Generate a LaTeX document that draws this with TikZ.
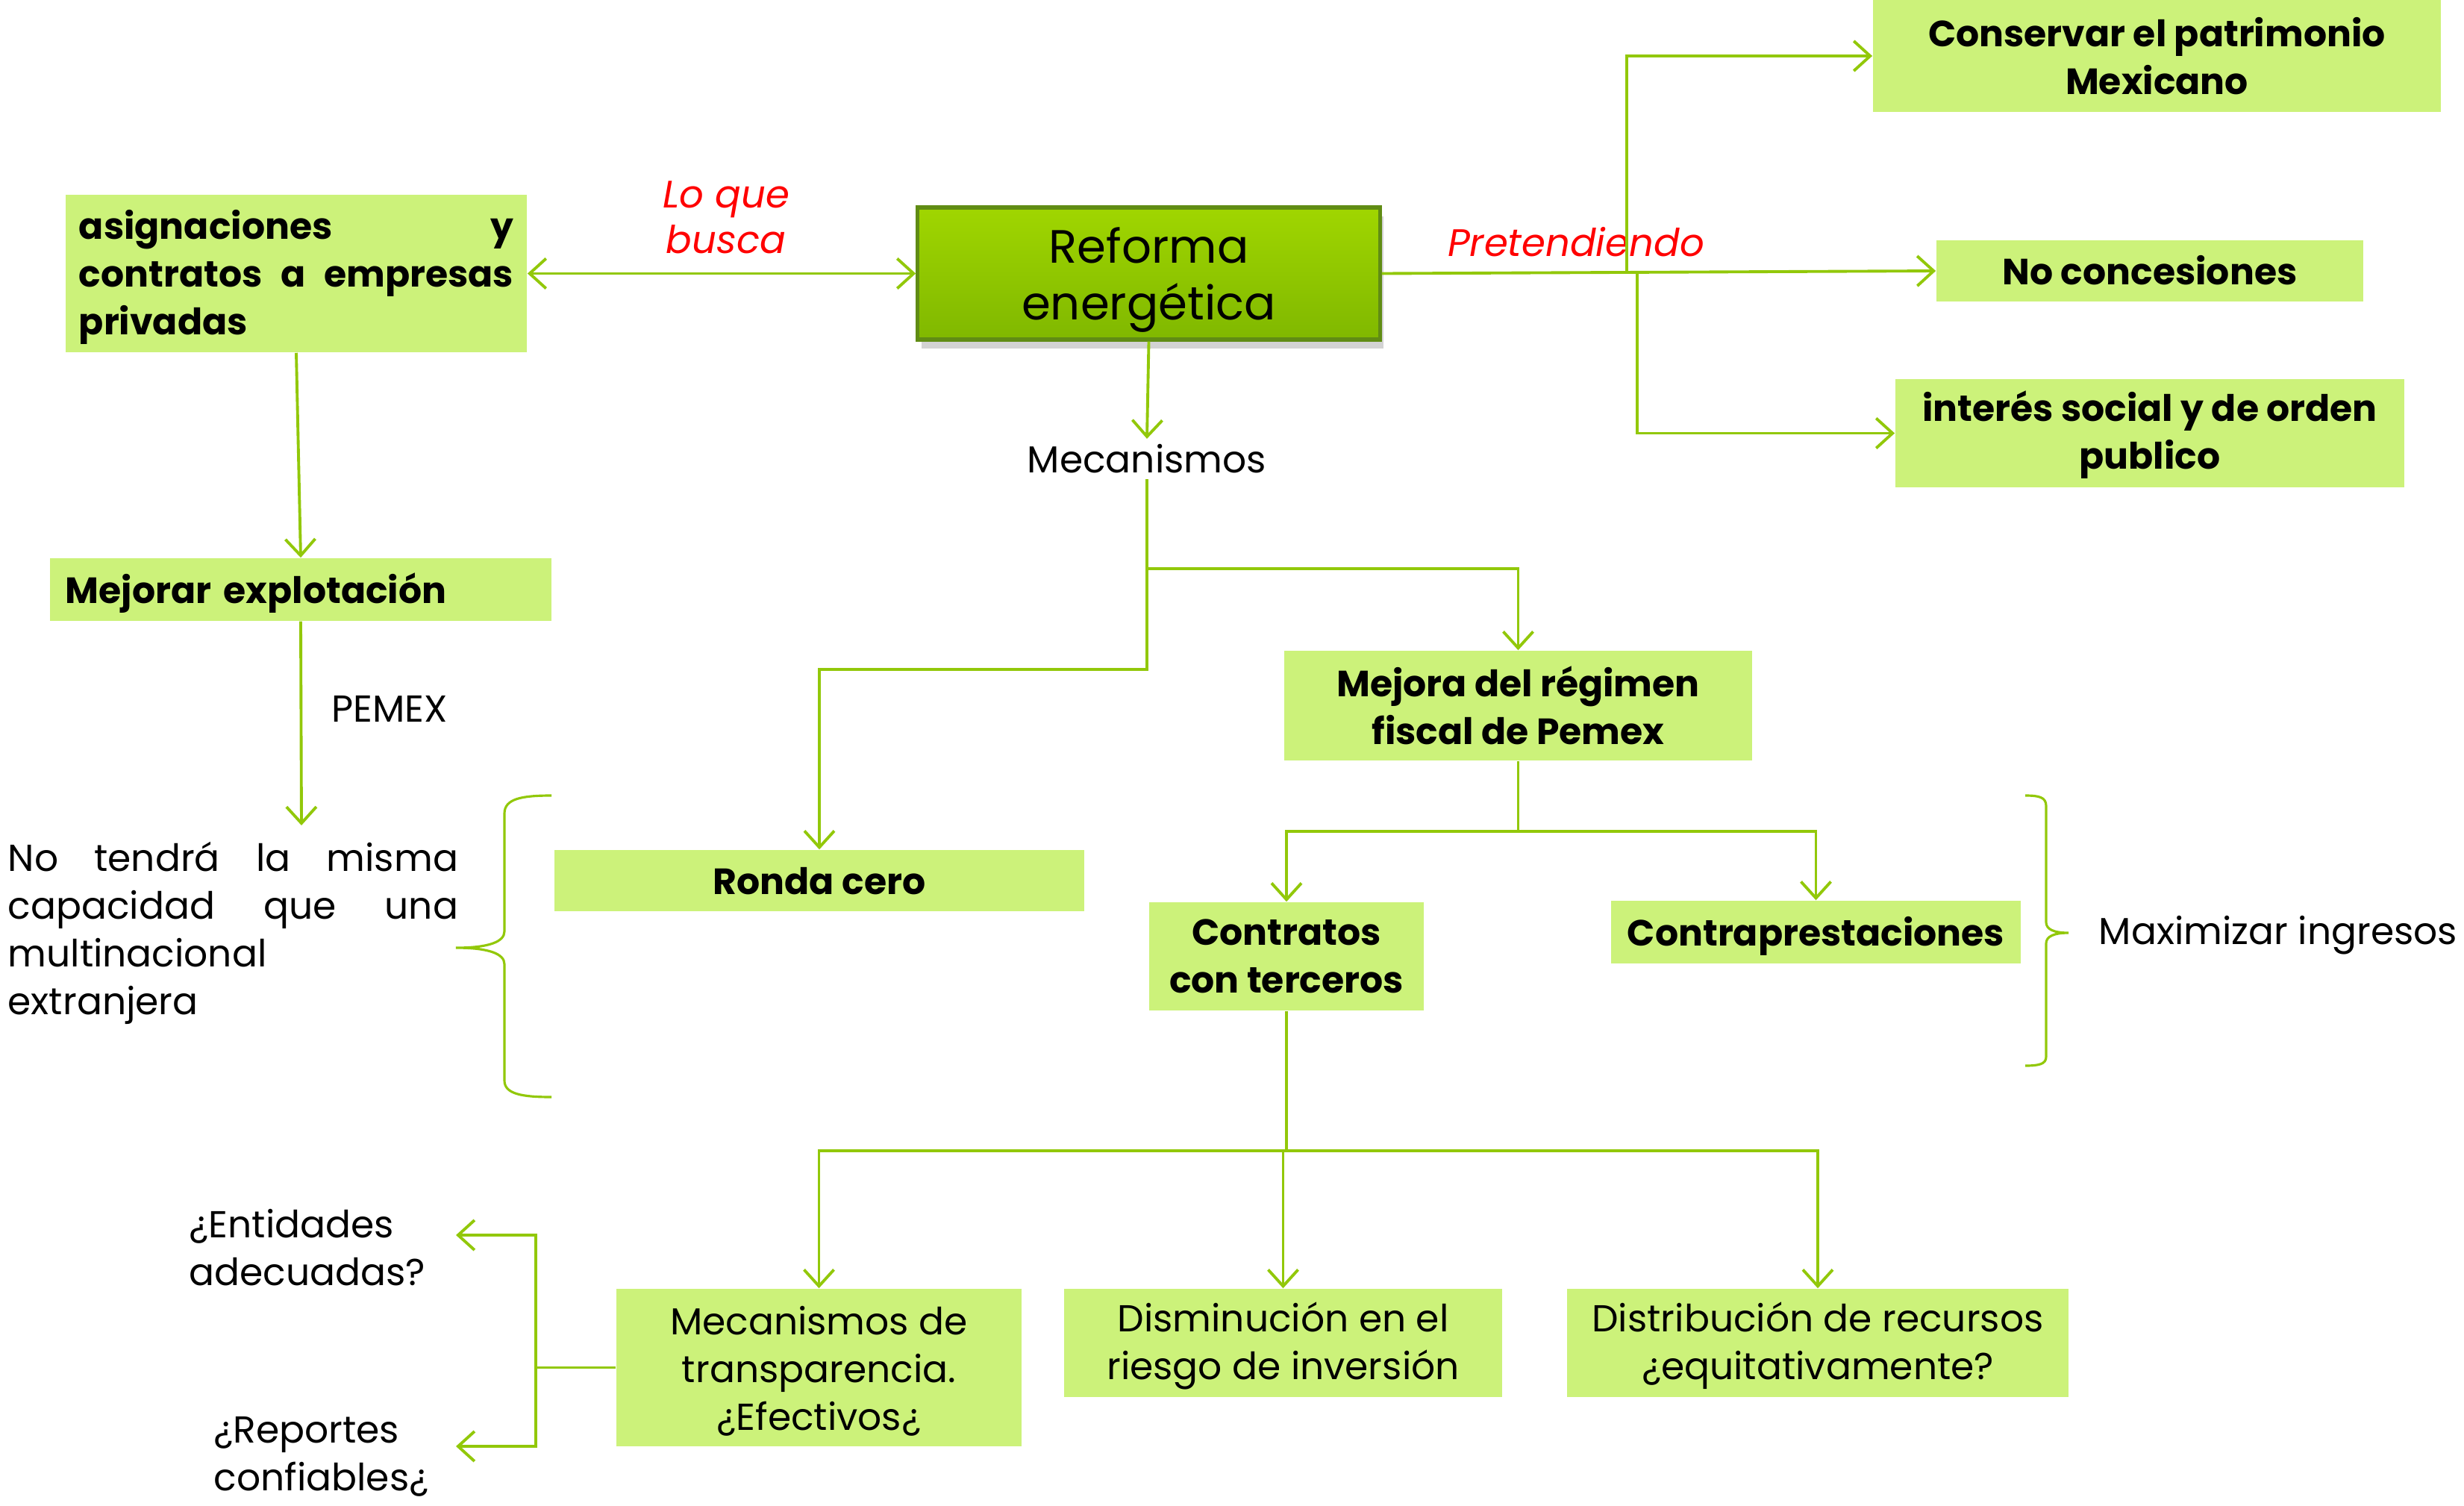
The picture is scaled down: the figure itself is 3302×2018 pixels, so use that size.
\documentclass[tikz,border=0pt]{standalone}
\usepackage{fontspec}
\setmainfont{Poppins}
\usetikzlibrary{arrows.meta,shadows}
\definecolor{boxg}{RGB}{204,242,122}
\definecolor{lineg}{RGB}{146,200,10}
\definecolor{reftop}{RGB}{160,214,0}
\definecolor{refbot}{RGB}{128,184,0}
\definecolor{refborder}{RGB}{96,140,20}
\newcommand\boxfnt{\fontsize{13.9}{18.2}\selectfont\bfseries}
\newcommand\lightfnt{\fontsize{14.3}{18.2}\selectfont}
\newcommand\redfnt{\fontsize{14.6}{17.3}\selectfont\itshape\color{red}}
\newcommand\reffnt{\fontsize{17.8}{21.5}\selectfont}
\newcommand\toprule{\rule{0pt}{14.5pt}}
\newcommand\botrule{\rule[-4pt]{0pt}{0pt}}
\newcommand\lrule{\rule{0pt}{13.5pt}}
\begin{document}
\begin{tikzpicture}[x=0.01cm,y=-0.01cm,
  box/.style={fill=boxg, inner sep=0pt, align=center, font=\boxfnt,
    execute at begin node=\toprule, execute at end node=\botrule},
  mbox/.style={fill=boxg, inner sep=0pt, align=center, font=\boxfnt},
  lbox/.style={fill=boxg, inner sep=0pt, align=center, font=\lightfnt},
  plain/.style={inner sep=0pt, align=left, font=\lightfnt},
  conn/.style={draw=lineg, line width=1.1pt},
  arr/.style={conn, -{Straight Barb[length=2.2mm,width=4mm]}},
  darr/.style={conn, {Straight Barb[length=2.2mm,width=4mm]}-{Straight Barb[length=2.2mm,width=4mm]}}]
\useasboundingbox (0,0) rectangle (3302,2018);

% central node
\node[draw=refborder, line width=1.5pt, top color=reftop, bottom color=refbot,
  drop shadow={opacity=0.35, shadow xshift=0.05cm, shadow yshift=-0.12cm},
  minimum width=6.19cm, minimum height=1.77cm, inner sep=0pt, align=center, font=\reffnt]
  (ref) at (1539.5,366.5) {\rule{0pt}{18.5pt}Reforma\\energética};

% top-left
\node[box, minimum width=6.18cm, minimum height=2.11cm, text width=5.82cm, align=left]
  (asig) at (397,366.5) {\makebox[5.82cm][s]{asignaciones\hfill y}\\
  \makebox[5.82cm][s]{contratos\hfill a\hfill empresas}\\privadas};
\node[box, minimum width=6.72cm, minimum height=0.84cm, text width=6.3cm, align=left]
  (mej) at (403,790) {Mejorar explotación};
\node[plain, anchor=west] (pemex) at (444,950) {PEMEX};
\coordinate (nt) at (404,1106);
\node[plain, anchor=west] (notendra) at (10,1250)
  {\makebox[6.03cm][s]{No\hfill tendrá\hfill la\hfill misma}\\
   \makebox[6.03cm][s]{capacidad\hfill que\hfill una}\\
   multinacional\\extranjera};

% labels on the main line
\node[inner sep=0pt, align=center, font=\redfnt] (loque) at (973,291) {Lo que\\busca};
\node[inner sep=0pt, font=\redfnt] (pret) at (2112,324) {Pretendiendo};

% right side
\node[mbox, minimum width=7.61cm, minimum height=1.5cm] (conserv) at (2890.5,75)
  {Conservar el patrimonio\\Mexicano};
\node[box, minimum width=5.72cm, minimum height=0.82cm] (nocon) at (2881,363) {No concesiones};
\node[mbox, minimum width=6.82cm, minimum height=1.45cm] (interes) at (2881,580.5)
  {\rule{0pt}{13pt}interés social y de orden\\publico};

% mecanismos
\node[inner sep=2pt, font=\lightfnt] (mecan) at (1537,615) {Mecanismos};
\node[box, minimum width=7.1cm, minimum height=0.82cm] (ronda) at (1098,1180) {Ronda cero};
\node[mbox, minimum width=6.27cm, minimum height=1.47cm] (mejora) at (2034.5,945.5)
  {Mejora del régimen\\fiscal de Pemex};
\node[mbox, minimum width=3.68cm, minimum height=1.45cm] (contratos) at (1724,1281.5)
  {Contratos\\con terceros};
\node[box, minimum width=5.49cm, minimum height=0.84cm] (contrap) at (2433.5,1249)
  {Contraprestaciones};
\node[plain, anchor=west] (maxim) at (2812,1253) {Maximizar ingresos};

% bottom row
\node[lbox, minimum width=5.43cm, minimum height=2.11cm] (transp) at (1097.5,1832.5)
  {\lrule Mecanismos de\\transparencia.\\¿Efectivos¿};
\node[lbox, minimum width=5.87cm, minimum height=1.45cm] (dismin) at (1719.5,1799.5)
  {\lrule Disminución en el\\riesgo de inversión};
\node[lbox, minimum width=6.72cm, minimum height=1.45cm] (distrib) at (2436,1799.5)
  {\lrule Distribución de recursos\\¿equitativamente?};
\node[plain, anchor=west] (entid) at (253,1672) {¿Entidades\\adecuadas?};
\node[plain, anchor=west] (report) at (286,1952) {¿Reportes\\confiables¿};

% connectors
\draw[darr] (asig.east) -- (ref.west);
\draw[arr] (asig.south) -- (mej.north);
\draw[arr] (mej.south) -- (nt);

\draw[arr] (ref.east) -- (nocon.west);
\coordinate (p1) at (2180,366);
\coordinate (p2) at (2194,365);
\draw[arr] (p1) |- (conserv.west);
\draw[arr] (p2) |- (interes.west);

\draw[arr] (ref.south) -- (mecan.north);
\coordinate (jm) at (1537,762);
\coordinate (jr) at (1537,897);
\draw[arr] (mecan.south) -- (jr) -| (ronda.north);
\draw[arr] (jm) -| (mejora.north);

\coordinate (jf) at (2034.5,1114);
\draw[arr] (mejora.south) -- (jf) -| (contratos.north);
\draw[arr] (jf) -| (contrap.north);

\coordinate (jc) at (1724,1542);
\draw[arr] (contratos.south) -- (jc) -| (transp.north);
\draw[arr] (jc) -| (dismin.north);
\draw[arr] (jc) -| (distrib.north);

\coordinate (jt) at (718,1832.5);
\coordinate (ea) at (611,1655);
\coordinate (ra) at (611,1938);
\draw[conn] (transp.west) -- (jt);
\draw[arr] (jt) |- (ea);
\draw[arr] (jt) |- (ra);

% braces
\draw[conn, line width=0.9pt] (739,1066) .. controls (700,1066) and (676,1070) .. (676,1090)
  -- (676,1248) .. controls (676,1262) and (655,1270) .. (611,1270)
  .. controls (655,1270) and (676,1278) .. (676,1292)
  -- (676,1448) .. controls (676,1466) and (700,1470) .. (739,1470);
\draw[conn, line width=0.9pt] (2714,1066) .. controls (2732,1066) and (2742,1068) .. (2742,1080)
  -- (2742,1236) .. controls (2742,1245) and (2752,1250) .. (2772,1250)
  .. controls (2752,1250) and (2742,1255) .. (2742,1264)
  -- (2742,1416) .. controls (2742,1426) and (2732,1428) .. (2714,1428);
\end{tikzpicture}
\end{document}
